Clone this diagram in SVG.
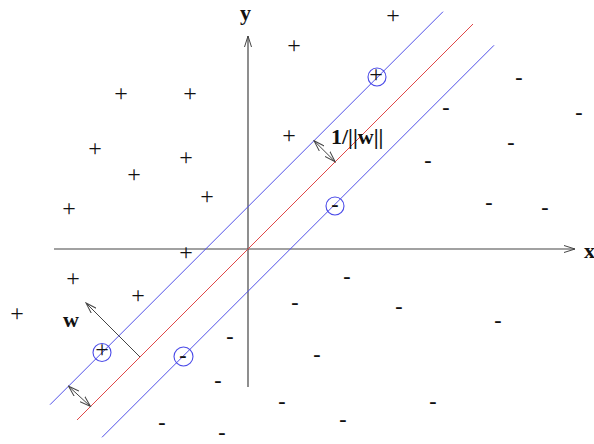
<svg xmlns="http://www.w3.org/2000/svg" width="594" height="444" viewBox="0 0 594 444">
<style>
.ax{stroke:#444;stroke-width:1.2;fill:none}
.blue{stroke:#5050e8;stroke-width:1;fill:none}
.red{stroke:#e04848;stroke-width:1;fill:none}
.arr{stroke:#444;stroke-width:1;fill:none}
.p{font-family:"Liberation Serif","Times New Roman",serif;font-size:24px;fill:#111;text-anchor:middle}
.m{font-family:"Liberation Serif","Times New Roman",serif;font-size:22px;font-weight:bold;fill:#111;text-anchor:middle}
.lbl{font-family:"Liberation Serif","Times New Roman",serif;font-size:22px;font-weight:bold;fill:#111}
.sv{stroke:#4a4ae8;stroke-width:1.1;fill:none}
</style>
<defs>
<marker id="ah" viewBox="0 0 12 8" refX="11" refY="4" markerWidth="12" markerHeight="8" markerUnits="userSpaceOnUse" orient="auto-start-reverse">
<path d="M0,0.5 L11,4 L0,7.5" fill="none" stroke="#444" stroke-width="1"/>
</marker>
</defs>
<rect width="594" height="444" fill="#fff"/>
<g id="axes">
<line class="ax" x1="248" y1="387" x2="248" y2="36" marker-end="url(#ah)"/>
<line class="ax" x1="54" y1="249" x2="575" y2="249" marker-end="url(#ah)"/>
<text class="lbl" x="240" y="20" font-weight="normal">y</text>
<text class="lbl" x="584" y="258">x</text>
</g>
<g id="lines">
<line class="blue" x1="50" y1="404.7" x2="443" y2="11.7"/>
<line class="red" x1="77" y1="420" x2="473" y2="24"/>
<line class="blue" x1="102" y1="437.3" x2="494" y2="45.3"/>
</g>
<g id="arrows">
<line class="arr" x1="140" y1="357" x2="86" y2="303" marker-end="url(#ah)"/>
<line class="arr" x1="314" y1="140.7" x2="335.2" y2="161.8" marker-start="url(#ah)" marker-end="url(#ah)"/>
<line class="arr" x1="68.5" y1="386.2" x2="90.5" y2="406.5" marker-start="url(#ah)" marker-end="url(#ah)"/>
<text class="lbl" x="331" y="144">1/||w||</text>
<text class="lbl" x="63" y="327">w</text>
</g>
<g id="supportvectors">
<circle class="sv" cx="377" cy="77" r="9"/>
<circle class="sv" cx="102" cy="352.5" r="9"/>
<circle class="sv" cx="335" cy="206" r="9"/>
<circle class="sv" cx="183.5" cy="356.5" r="9.5"/>
</g>
<g id="plus">
<text class="p" x="393" y="23">+</text>
<text class="p" x="294" y="53">+</text>
<text class="p" x="376" y="82">+</text>
<text class="p" x="121" y="101">+</text>
<text class="p" x="190" y="101">+</text>
<text class="p" x="289" y="143">+</text>
<text class="p" x="95" y="156">+</text>
<text class="p" x="186" y="165">+</text>
<text class="p" x="134" y="182">+</text>
<text class="p" x="207" y="204">+</text>
<text class="p" x="69" y="216">+</text>
<text class="p" x="186" y="260">+</text>
<text class="p" x="73" y="286">+</text>
<text class="p" x="138" y="303">+</text>
<text class="p" x="17" y="321">+</text>
<text class="p" x="102" y="357">+</text>
</g>
<g id="minus">
<text class="m" x="519" y="84">-</text>
<text class="m" x="446" y="114">-</text>
<text class="m" x="579" y="119">-</text>
<text class="m" x="511" y="149">-</text>
<text class="m" x="428" y="167">-</text>
<text class="m" x="489" y="209">-</text>
<text class="m" x="545" y="214">-</text>
<text class="m" x="335" y="211">-</text>
<text class="m" x="347" y="283">-</text>
<text class="m" x="295" y="309">-</text>
<text class="m" x="399" y="313">-</text>
<text class="m" x="498" y="327">-</text>
<text class="m" x="230" y="343">-</text>
<text class="m" x="317" y="361">-</text>
<text class="m" x="183" y="362">-</text>
<text class="m" x="218" y="387">-</text>
<text class="m" x="282" y="408">-</text>
<text class="m" x="433" y="408">-</text>
<text class="m" x="162" y="429">-</text>
<text class="m" x="343" y="426">-</text>
<text class="m" x="222" y="439">-</text>
</g>
</svg>
